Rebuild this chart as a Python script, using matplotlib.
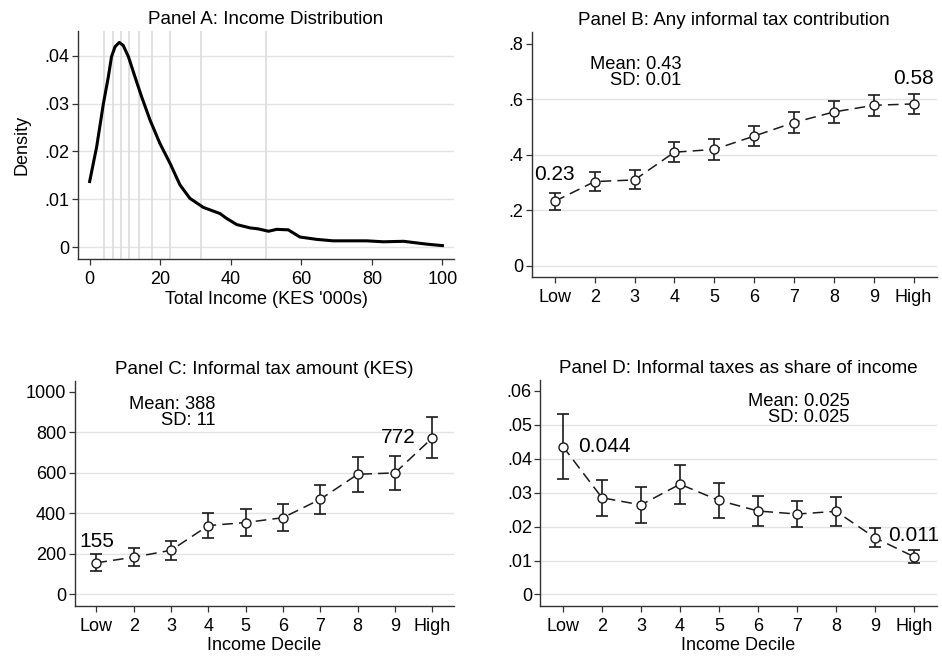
import numpy as np
import matplotlib.pyplot as plt

plt.rcParams['font.family'] = ['Liberation Sans', 'DejaVu Sans']

# Panel A: kernel density of total income (KES '000s)
income_x = [0, 2, 3.9, 5.3, 6.2, 7.2, 8.4, 9.5, 11.0, 12.85, 14.75, 17.1, 19.9, 22.8, 25.6,
            28.4, 32.2, 36.95, 38.8, 41.7, 45.5, 47.8, 50.7, 53, 56.3, 59.6, 64.4, 69, 78.5,
            83.3, 89, 95.6, 100]
income_density = [0.0137, 0.021, 0.030, 0.0356, 0.0398, 0.0419, 0.0428, 0.0422, 0.0398,
                  0.0356, 0.0314, 0.0266, 0.0217, 0.0175, 0.013, 0.0102, 0.0083, 0.0070,
                  0.006, 0.0047, 0.0040, 0.0038, 0.0033, 0.0037, 0.0036, 0.0021, 0.0016,
                  0.0013, 0.0013, 0.0011, 0.0012, 0.0006, 0.0003]
decile_cutoffs = [4.06, 6.7, 8.9, 11.2, 14.1, 17.7, 22.8, 31.6, 49.9]

deciles = ['Low', '2', '3', '4', '5', '6', '7', '8', '9', 'High']

# Panel B: any informal tax contribution
any_tax = [0.233, 0.304, 0.31, 0.41, 0.42, 0.468, 0.517, 0.555, 0.579, 0.584]
any_tax_ci = [0.031, 0.033, 0.034, 0.037, 0.037, 0.037, 0.037, 0.038, 0.037, 0.037]

# Panel C: informal tax amount (KES)
tax_amount = [155, 183, 217, 339, 354, 378, 469, 592, 599, 772]
tax_amount_ci = [42, 45, 48, 63, 66, 65, 72, 86, 84, 101]

# Panel D: informal taxes as share of income
tax_share = [0.0436, 0.0285, 0.0264, 0.0325, 0.0277, 0.0246, 0.0237, 0.0245, 0.0167, 0.0111]
tax_share_ci = [0.0096, 0.0053, 0.0053, 0.0057, 0.0052, 0.0045, 0.0038, 0.0042, 0.0028, 0.0019]

GRID = '#e3e3e3'
INK = '#1a1a1a'
TICK_FS = 13
TITLE_FS = 13.5
NOTE_FS = 13.2
VAL_FS = 15

fig = plt.figure(figsize=(9.42, 6.56), dpi=100)
ax_a = fig.add_axes([0.0828, 0.6052, 0.3992, 0.3476])
ax_b = fig.add_axes([0.5644, 0.5777, 0.4300, 0.3730])
ax_c = fig.add_axes([0.0793, 0.0762, 0.4027, 0.3435])
ax_d = fig.add_axes([0.5736, 0.0762, 0.4208, 0.3445])


def style_axes(ax, yticks, ylabels, ylim):
    for s in ['top', 'right']:
        ax.spines[s].set_visible(False)
    for s in ['left', 'bottom']:
        ax.spines[s].set_color('#333333')
        ax.spines[s].set_linewidth(1.0)
    ax.set_yticks(yticks)
    ax.set_yticklabels(ylabels)
    ax.set_ylim(ylim)
    ax.tick_params(axis='both', labelsize=TICK_FS, length=4, width=0.9, color='#333333')
    ax.tick_params(axis='y', pad=2)
    ax.tick_params(axis='x', pad=4.5)
    for t in yticks[:-1]:
        ax.axhline(t, color=GRID, lw=1.0, zorder=0)


def decile_panel(ax, vals, ci, title, yticks, ylabels, ylim, xlabel=None):
    x = np.arange(1, len(vals) + 1)
    ax.errorbar(x, vals, yerr=ci, fmt='none', ecolor=INK, elinewidth=1.2,
                capsize=4, capthick=1.2, zorder=2)
    ax.plot(x, vals, ls=(0, (7, 4)), color=INK, lw=1.1, zorder=3)
    ax.plot(x, vals, 'o', ms=6.5, mfc='white', mec=INK, mew=1.0, ls='none', zorder=4)
    ax.set_xticks(x)
    ax.set_xticklabels(deciles)
    ax.set_xlim(0.42, 10.58)
    style_axes(ax, yticks, ylabels, ylim)
    ax.set_title(title, fontsize=TITLE_FS, pad=5)
    if xlabel:
        ax.set_xlabel(xlabel, fontsize=TICK_FS, labelpad=1.5)
    return x


# Panel A
ax_a.plot(income_x, income_density, color='black', lw=2.2, zorder=3,
          solid_joinstyle='round')
for c in decile_cutoffs:
    ax_a.axvline(c, color='#d9d9d9', lw=1.1, zorder=1)
ax_a.set_xlim(-3.3, 103.3)
ax_a.set_xticks([0, 20, 40, 60, 80, 100])
style_axes(ax_a, [0, 0.01, 0.02, 0.03, 0.04, 0.05], ['0', '.01', '.02', '.03', '.04', ''],
           (-0.0025, 0.0452))
ax_a.set_title('Panel A: Income Distribution', fontsize=TITLE_FS, pad=5)
ax_a.set_xlabel("Total Income (KES '000s)", fontsize=TICK_FS, labelpad=2.5)
ax_a.set_ylabel('Density', fontsize=TICK_FS, labelpad=10)

# Panel B
decile_panel(ax_b, any_tax, any_tax_ci, 'Panel B: Any informal tax contribution',
             [0, 0.2, 0.4, 0.6, 0.8], ['0', '.2', '.4', '.6', '.8'], (-0.04, 0.842))
ax_b.text(1, any_tax[0] + 0.095, f'{any_tax[0]:.2f}', ha='center', va='center', fontsize=VAL_FS)
ax_b.text(10, any_tax[-1] + 0.092, f'{any_tax[-1]:.2f}', ha='center', va='center', fontsize=VAL_FS)
ax_b.text(4.18, 0.697, 'Mean: 0.43\nSD: 0.01', ha='right', va='center', fontsize=NOTE_FS,
          multialignment='right', linespacing=0.95)

# Panel C
decile_panel(ax_c, tax_amount, tax_amount_ci, 'Panel C: Informal tax amount (KES)',
             [0, 200, 400, 600, 800, 1000], ['0', '200', '400', '600', '800', '1000'],
             (-58, 1054), xlabel='Income Decile')
ax_c.text(1, tax_amount[0] + 105, f'{tax_amount[0]}', ha='center', va='center', fontsize=VAL_FS)
ax_c.text(9.55, tax_amount[-1], f'{tax_amount[-1]}', ha='right', va='center', fontsize=VAL_FS)
ax_c.text(4.2, 897, 'Mean: 388\nSD: 11', ha='right', va='center', fontsize=NOTE_FS,
          multialignment='right', linespacing=0.95)

# Panel D
decile_panel(ax_d, tax_share, tax_share_ci, 'Panel D: Informal taxes as share of income',
             [0, 0.01, 0.02, 0.03, 0.04, 0.05, 0.06],
             ['0', '.01', '.02', '.03', '.04', '.05', '.06'], (-0.0034, 0.0632),
             xlabel='Income Decile')
ax_d.text(1.39, tax_share[0], f'{tax_share[0]:.3f}', ha='left', va='center', fontsize=VAL_FS)
ax_d.text(9.33, tax_share[-1] + 0.0064, f'{tax_share[-1]:.3f}', ha='left', va='center',
          fontsize=VAL_FS, clip_on=False)
ax_d.text(8.35, 0.0545, 'Mean: 0.025\nSD: 0.025', ha='right', va='center', fontsize=NOTE_FS,
          multialignment='right', linespacing=0.95)

fig.savefig('out.png', dpi=100)
